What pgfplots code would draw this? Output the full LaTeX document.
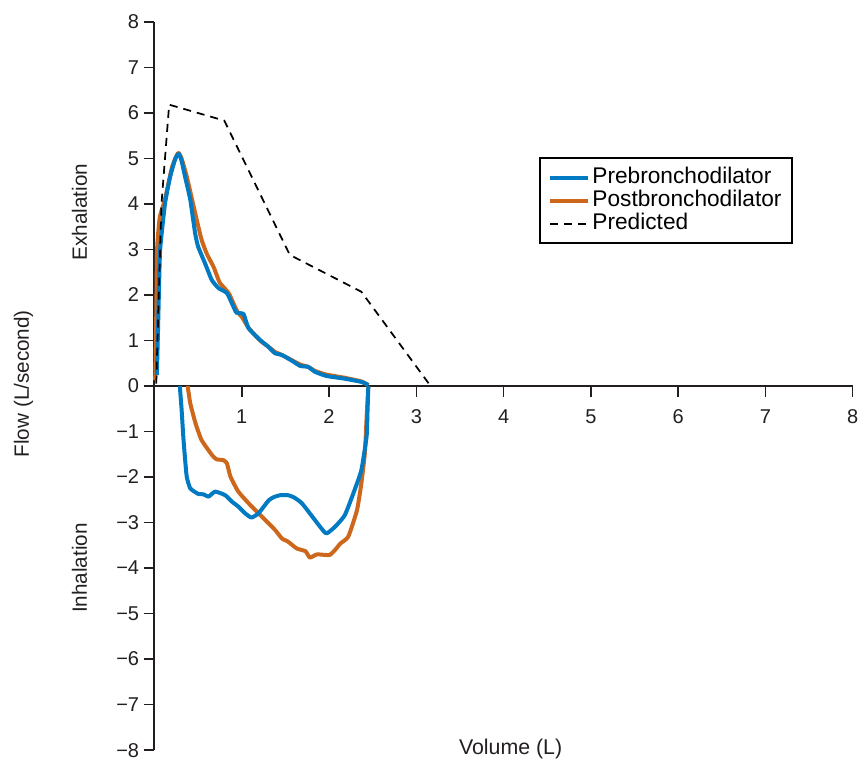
\documentclass[border=0pt]{standalone}
\usepackage{fontspec}
\setmainfont{Liberation Sans}
\usepackage{pgfplots}
\pgfplotsset{compat=1.18}
\definecolor{preblue}{RGB}{0,122,194}
\definecolor{postorange}{RGB}{204,103,28}
\definecolor{axgray}{RGB}{35,31,32}
\begin{document}
\begin{tikzpicture}
\begin{axis}[
  scale only axis, width=523.5pt, height=546pt,
  xmin=0, xmax=8, ymin=-8, ymax=8,
  axis lines=middle,
  axis line style={-, line width=1.5pt, color=axgray},
  tick style={line width=1.1pt, color=axgray},
  tick align=outside,
  major tick length=8pt,
  xtick={1,2,3,4,5,6,7,8},
  xticklabels={1,2,3,4,5,6,7,8},
  xticklabel shift=6.5pt,
  ytick={-8,-7,-6,-5,-4,-3,-2,-1,0,1,2,3,4,5,6,7,8},
  yticklabels={−8,−7,−6,−5,−4,−3,−2,−1,0,1,2,3,4,5,6,7,8},
  hide obscured y ticks=false,
  hide obscured x ticks=false,
  ticklabel style={font=\fontsize{15}{18}\selectfont, text=axgray},
  clip=false,
  legend style={at={(axis cs:4.41,5.03)}, anchor=north west, draw=black, line width=1.5pt,
    fill=white, font=\fontsize{17}{20}\selectfont, cells={anchor=west},
    nodes={text height=12pt, text depth=3.5pt, inner ysep=0.9pt},
    inner xsep=6pt, inner ysep=6pt},
  legend image code/.code={\draw[#1] (0pt,0pt) -- (28pt,0pt);},
]
\addlegendimage{preblue, line width=3pt}
\addlegendentry{Prebronchodilator}
\addlegendimage{postorange, line width=3pt}
\addlegendentry{Postbronchodilator}
\addlegendimage{black, line width=1.3pt, dash pattern=on 6pt off 4.5pt}
\addlegendentry{Predicted}

% Postbronchodilator exhalation
\addplot[forget plot, postorange, line width=3pt, smooth, tension=0.3, line join=round] coordinates {
(0.008,0.13)(0.02,1.5)(0.03,3.0)(0.06,3.7)(0.12,4.1)(0.2,4.8)(0.27,5.12)(0.31,5.0)(0.37,4.6)(0.43,4.1)(0.49,3.6)(0.54,3.21)(0.6,2.9)(0.676,2.62)(0.72,2.4)(0.75,2.26)(0.85,2.04)(0.92,1.75)(0.96,1.6)(1.0,1.52)(1.08,1.27)(1.21,1.0)(1.3,0.87)(1.38,0.75)(1.46,0.68)(1.57,0.57)(1.67,0.47)(1.76,0.42)(1.84,0.33)(1.97,0.25)(2.18,0.18)(2.37,0.1)(2.45,0.02)
};
% Postbronchodilator inhalation
\addplot[forget plot, postorange, line width=3pt, smooth, tension=0.3, line join=round] coordinates {
(2.45,0)(2.43,-0.7)(2.41,-1.48)(2.37,-2.14)(2.32,-2.73)(2.22,-3.31)(2.13,-3.46)(2.07,-3.6)(2.01,-3.71)(1.94,-3.71)(1.86,-3.70)(1.78,-3.77)(1.73,-3.63)(1.63,-3.57)(1.53,-3.42)(1.46,-3.35)(1.38,-3.16)(1.23,-2.87)(1.08,-2.58)(0.96,-2.32)(0.87,-1.99)(0.83,-1.70)(0.79,-1.63)(0.71,-1.61)(0.66,-1.52)(0.54,-1.19)(0.47,-0.82)(0.41,-0.38)(0.38,0)
};
% Prebronchodilator exhalation
\addplot[forget plot, preblue, line width=3pt, smooth, tension=0.3, line join=round] coordinates {
(0.027,0.24)(0.04,1.2)(0.05,2.0)(0.065,3.0)(0.12,4.0)(0.18,4.6)(0.24,5.0)(0.28,5.1)(0.31,4.95)(0.35,4.6)(0.41,4.09)(0.466,3.35)(0.50,3.06)(0.58,2.69)(0.656,2.33)(0.733,2.15)(0.83,2.04)(0.905,1.74)(0.94,1.61)(1.02,1.58)(1.077,1.27)(1.21,1.01)(1.305,0.86)(1.38,0.72)(1.46,0.68)(1.57,0.56)(1.67,0.44)(1.76,0.42)(1.84,0.31)(1.97,0.22)(2.18,0.16)(2.37,0.09)(2.45,0.02)
};
% Prebronchodilator inhalation
\addplot[forget plot, preblue, line width=3pt, smooth, tension=0.3, line join=round] coordinates {
(2.45,0.0)(2.44,-0.6)(2.43,-1.11)(2.37,-1.85)(2.28,-2.35)(2.18,-2.84)(2.07,-3.09)(1.97,-3.24)(1.90,-3.1)(1.84,-2.95)(1.69,-2.58)(1.60,-2.45)(1.53,-2.40)(1.44,-2.40)(1.37,-2.44)(1.31,-2.51)(1.19,-2.80)(1.11,-2.89)(1.04,-2.80)(0.96,-2.65)(0.886,-2.54)(0.81,-2.40)(0.695,-2.32)(0.62,-2.43)(0.56,-2.38)(0.50,-2.37)(0.41,-2.25)(0.37,-2.0)(0.35,-1.6)(0.33,-1.11)(0.31,-0.5)(0.29,0)
};
% Predicted
\addplot[forget plot, black, line width=1.3pt, dash pattern=on 6pt off 4.5pt] coordinates {
(0.02,0.05)(0.08,4.0)(0.168,6.18)(0.80,5.83)(1.55,2.88)(2.37,2.07)(3.14,0.06)
};

\node[rotate=90, font=\fontsize{15.5}{18}\selectfont, text=axgray] at (axis cs:-1.50,0.05) {Flow (L/second)};
\node[rotate=90, font=\fontsize{15.5}{18}\selectfont, text=axgray] at (axis cs:-0.86,3.82) {Exhalation};
\node[rotate=90, font=\fontsize{15.5}{18}\selectfont, text=axgray] at (axis cs:-0.86,-4.0) {Inhalation};
\node[font=\fontsize{16}{18}\selectfont, text=axgray] at (axis cs:4.08,-7.98) {Volume (L)};
\coordinate (bbA) at (axis cs:-1.77,8.48);
\coordinate (bbB) at (axis cs:8.06,-8.24);
\end{axis}
\pgfresetboundingbox
\path[use as bounding box] (bbA) rectangle (bbB);
\end{tikzpicture}
\end{document}
